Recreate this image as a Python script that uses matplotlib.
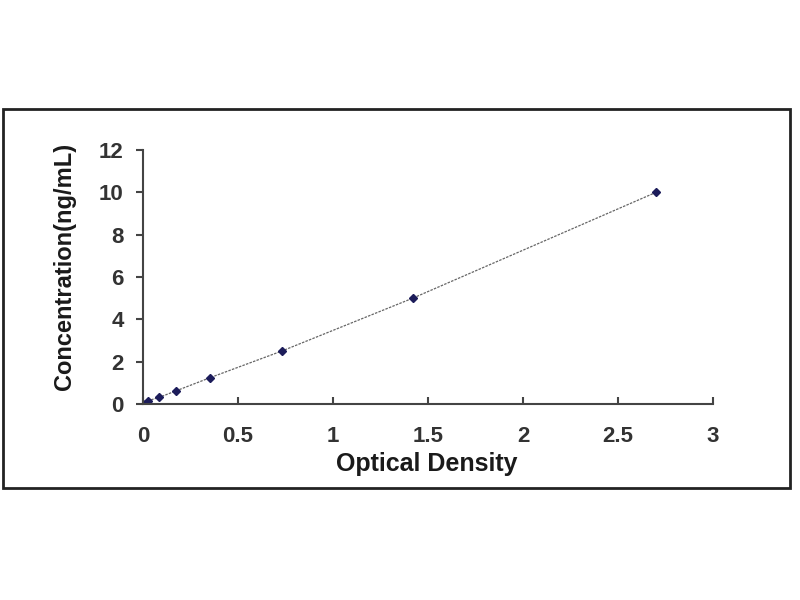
import numpy as np
import matplotlib.pyplot as plt
from matplotlib.patches import Rectangle

# standard curve values
od = [0.012, 0.027, 0.085, 0.175, 0.355, 0.73, 1.42, 2.70]
conc = [0.0, 0.156, 0.312, 0.625, 1.25, 2.5, 5.0, 10.0]
xticks = [0, 0.5, 1, 1.5, 2, 2.5, 3]
xtick_labels = ['0', '0.5', '1', '1.5', '2', '2.5', '3']
yticks = [0, 2, 4, 6, 8, 10, 12]

plt.rcParams['font.family'] = ['Liberation Sans', 'DejaVu Sans']
plt.rcParams['font.weight'] = 'bold'

fig = plt.figure(figsize=(8, 6), dpi=100)
fig.patches.append(Rectangle((3/800, 1-488/600), 787/800, 379/600,
                             transform=fig.transFigure, fill=False,
                             edgecolor='#222222', linewidth=2))

ax = fig.add_axes([143/800, 1-404/600, 570/800, 254/600])
ax.plot(od, conc, color='#666666', linewidth=0.9, linestyle=(0, (2, 1)))
ax.plot(od, conc, linestyle='none', marker='D', markersize=4.5,
        color='#1c1c5a')

ax.set_xlim(0, 3)
ax.set_ylim(0, 12)
ax.set_xticks(xticks)
ax.set_xticklabels(xtick_labels)
ax.set_yticks(yticks)
for s in ['top', 'right']:
    ax.spines[s].set_visible(False)
for s in ['left', 'bottom']:
    ax.spines[s].set_color('#444444')
    ax.spines[s].set_linewidth(1.5)
ax.tick_params(axis='x', direction='in', length=5, width=1.5, color='#444444',
               labelsize=16, pad=16, labelcolor='#333333')
ax.tick_params(axis='y', direction='out', length=5, width=1.5, color='#444444',
               labelsize=16, pad=9, labelcolor='#333333')
ax.set_xlabel('Optical Density', fontsize=18, fontweight='heavy',
              color='#1a1a1a')
ax.set_ylabel('Concentration(ng/mL)', fontsize=17, fontweight='heavy',
              color='#1a1a1a')
ax.xaxis.set_label_coords(0.498, -0.19)
ax.yaxis.set_label_coords(-0.117, 0.543)

fig.savefig('out.png', dpi=100)
